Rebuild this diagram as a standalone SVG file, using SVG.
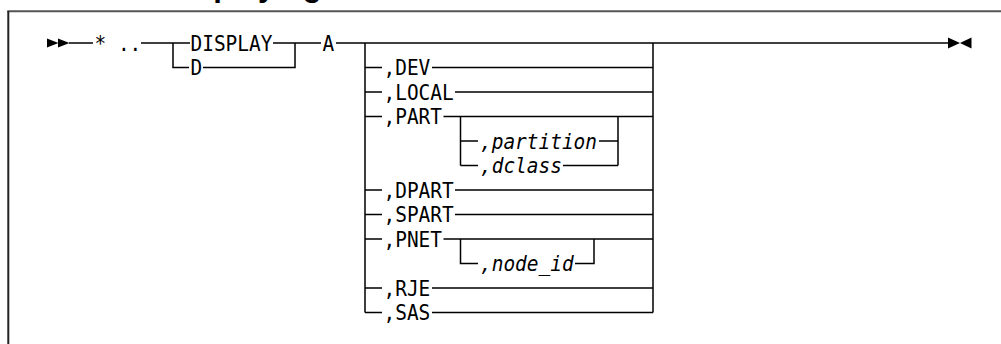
<svg xmlns="http://www.w3.org/2000/svg" width="1001" height="344" viewBox="0 0 1001 344">
  <style>
    .t { font-family: "DejaVu Sans Mono", "Liberation Mono", monospace; font-size: 21.5px; fill: #000; }
    .i { font-style: italic; }
    .ln { fill: none; stroke: #000; stroke-width: 1.5; }
    .arr { fill: #000; }
    .title { font-family: "Liberation Sans", Arial, sans-serif; font-weight: bold; font-size: 31px; fill: #000; }
  </style>

  <rect width="1001" height="344" fill="#fff"/>

  <!-- heading, mostly above the page edge -->
  <text class="title" x="165" y="-4">Displaying</text>

  <!-- figure frame -->
  <g id="frame">
    <line x1="7.3" y1="11.3" x2="1001" y2="11.3" stroke="#555" stroke-width="2"/>
    <line x1="8.3" y1="11" x2="8.3" y2="344" stroke="#222" stroke-width="2"/>
  </g>

  <!-- railroad track -->
  <g id="connectors" class="ln">
    <!-- main line -->
    <path d="M69 43 H93 M141 43 H190 M273 43 H321 M336 43 H948"/>
    <!-- DISPLAY / D choice -->
    <path d="M173 43 V67.5 H189 M203 67.5 H295 V43"/>
    <!-- operand choice rails -->
    <path d="M365 43 V312.5 M653 43 V312.5"/>
    <!-- ,DEV -->
    <path d="M365 67.5 H382 M432 67.5 H653"/>
    <!-- ,LOCAL -->
    <path d="M365 92 H382 M455 92 H653"/>
    <!-- ,PART -->
    <path d="M365 116.5 H382 M443.5 116.5 H653"/>
    <!-- ,PART sub-choice -->
    <path d="M460.5 116.5 V165.5 M618 116.5 V165.5"/>
    <path d="M460.5 141 H478 M599 141 H618"/>
    <path d="M460.5 165.5 H478 M563 165.5 H618"/>
    <!-- ,DPART -->
    <path d="M365 190 H382 M455 190 H653"/>
    <!-- ,SPART -->
    <path d="M365 214.5 H382 M455 214.5 H653"/>
    <!-- ,PNET with optional node -->
    <path d="M365 239 H382 M443.5 239 H653"/>
    <path d="M460.5 239 V263.5 H478 M575 263.5 H594 V239"/>
    <!-- ,RJE -->
    <path d="M365 288 H382 M432 288 H653"/>
    <!-- ,SAS -->
    <path d="M365 312.5 H382 M432 312.5 H653"/>
  </g>

  <!-- start and end markers -->
  <g id="start">
    <polygon class="arr" points="47,38.5 58.5,43 47,47.5"/>
    <polygon class="arr" points="58,38.5 69.5,43 58,47.5"/>
  </g>
  <g id="end">
    <polygon class="arr" points="948,37.5 960,43 948,48.5"/>
    <polygon class="arr" points="971.5,37.5 960,43 971.5,48.5"/>
  </g>

  <g id="prefix"><text class="t" x="94.5" y="50.8" textLength="46.8" lengthAdjust="spacingAndGlyphs">* ..</text></g>
  <g id="display"><text class="t" x="190.5" y="50.8" textLength="81.9" lengthAdjust="spacingAndGlyphs">DISPLAY</text></g>
  <g id="d"><text class="t" x="190.5" y="75.3" textLength="11.7" lengthAdjust="spacingAndGlyphs">D</text></g>
  <g id="a"><text class="t" x="322.5" y="50.8" textLength="11.7" lengthAdjust="spacingAndGlyphs">A</text></g>

  <g id="dev"><text class="t" x="383.5" y="75.3" textLength="46.8" lengthAdjust="spacingAndGlyphs">,DEV</text></g>
  <g id="local"><text class="t" x="383.5" y="99.8" textLength="70.2" lengthAdjust="spacingAndGlyphs">,LOCAL</text></g>
  <g id="part"><text class="t" x="383.5" y="124.3" textLength="58.5" lengthAdjust="spacingAndGlyphs">,PART</text></g>
  <g id="partition"><text class="t i" x="480" y="148.8" textLength="117" lengthAdjust="spacingAndGlyphs">,partition</text></g>
  <g id="dclass"><text class="t i" x="480" y="173.3" textLength="81.9" lengthAdjust="spacingAndGlyphs">,dclass</text></g>
  <g id="dpart"><text class="t" x="383.5" y="197.8" textLength="70.2" lengthAdjust="spacingAndGlyphs">,DPART</text></g>
  <g id="spart"><text class="t" x="383.5" y="222.3" textLength="70.2" lengthAdjust="spacingAndGlyphs">,SPART</text></g>
  <g id="pnet"><text class="t" x="383.5" y="246.8" textLength="58.5" lengthAdjust="spacingAndGlyphs">,PNET</text></g>
  <g id="node_id"><text class="t i" x="480" y="271.3" textLength="93.6" lengthAdjust="spacingAndGlyphs">,node_id</text></g>
  <g id="rje"><text class="t" x="383.5" y="295.8" textLength="46.8" lengthAdjust="spacingAndGlyphs">,RJE</text></g>
  <g id="sas"><text class="t" x="383.5" y="320.3" textLength="46.8" lengthAdjust="spacingAndGlyphs">,SAS</text></g>
</svg>
